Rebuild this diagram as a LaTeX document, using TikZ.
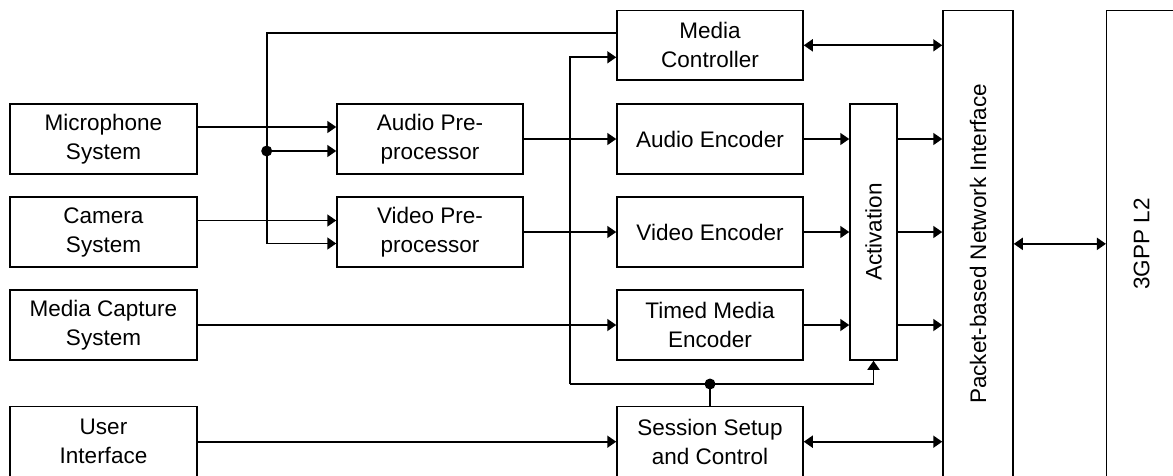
\documentclass[tikz,border=0pt]{standalone}
\usepackage{fontspec}
\setmainfont{Liberation Sans}
\usetikzlibrary{arrows.meta,calc}
\begin{document}
\begin{tikzpicture}[x=1pt,y=-1pt,
  box/.style={draw,line width=1.5pt,inner sep=0pt,align=center,
    minimum width=186pt,minimum height=70pt,
    font=\fontsize{22.5}{29}\selectfont},
  txt/.style={inner sep=0pt,font=\fontsize{22.5}{29}\selectfont},
  ln/.style={line width=1.8pt},
  arr/.style={line width=1.8pt,-{Triangle[length=9pt,width=12pt]}},
  darr/.style={line width=1.8pt,{Triangle[length=9pt,width=12pt]}-{Triangle[length=9pt,width=12pt]}}]
\useasboundingbox (0,0) rectangle (1173,475);
\clip (0,0) rectangle (1173,475);
% left column
\node[box,minimum width=187pt] (mic) at (103.5,139) {Microphone\\System};
\node[box,minimum width=187pt] (cam) at (103.5,232) {Camera\\System};
\node[box,minimum width=187pt] (cap) at (103.5,325) {Media Capture\\System};
\node[box,minimum width=187pt] (ui) at (103.5,441.7) {User\\Interface};
% preprocessors
\node[box] (apre) at (430,139) {Audio Pre-\\processor};
\node[box] (vpre) at (430,232) {Video Pre-\\processor};
% encoders column
\node[box,minimum height=69.3pt] (mc) at (710,45.3) {Media\\Controller};
\node[box] (aenc) at (710,139) {Audio Encoder};
\node[box] (venc) at (710,232) {Video Encoder};
\node[box] (tenc) at (710,325) {Timed Media\\Encoder};
\node[box] (sess) at (710,441.7) {Session Setup\\and Control};
% activation, network interface, L2
\node[box,minimum width=47pt,minimum height=256pt] (act) at (873.5,232) {};
\node[txt,rotate=90] (acttxt) at (act.center) {Activation};
\node[box,minimum width=70pt,minimum height=466.3pt] (pni) at (978,243.85) {};
\node[txt,rotate=90] (pnitxt) at (pni.center) {Packet-based Network Interface};
\node[box,minimum width=70pt,minimum height=466.3pt] (ltwo) at (1141.7,243.85) {};
\node[txt,rotate=90] (ltwotxt) at (ltwo.center) {3GPP L2};
% helper coordinates
\coordinate (bx) at (266.7,0);
\coordinate (a1) at ([yshift=12pt]apre.west);
\coordinate (a2) at ([yshift=-12pt]apre.west);
\coordinate (v1) at ([yshift=11.5pt]vpre.west);
\coordinate (v2) at ([yshift=-11.5pt]vpre.west);
\coordinate (m1) at ([yshift=12pt]mc.west);
\coordinate (m2) at ([yshift=-12pt]mc.west);
\coordinate (j1) at (bx |- a2);
\coordinate (lb) at (570,384);
\coordinate (j2) at (sess.north |- lb);
% inputs to preprocessors
\draw[arr] (mic.east |- a1) -- (a1);
\draw[arr] (cam.east |- v1) -- (v1);
\draw[arr] (m1) -| (bx |- v2) -- (v2);
\draw[arr] (j1) -- (a2);
\fill (j1) circle (5.5pt);
% preprocessors to encoders
\draw[arr] (apre.east) -- (aenc.west);
\draw[arr] (vpre.east) -- (venc.west);
\draw[arr] (cap.east) -- (tenc.west);
\draw[arr] (ui.east) -- (sess.west);
% encoders to activation
\draw[arr] (aenc.east) -- (act.west |- aenc.east);
\draw[arr] (venc.east) -- (act.west |- venc.east);
\draw[arr] (tenc.east) -- (act.west |- tenc.east);
% activation to network interface
\draw[arr] (act.east |- aenc.east) -- (pni.west |- aenc.east);
\draw[arr] (act.east |- venc.east) -- (pni.west |- venc.east);
\draw[arr] (act.east |- tenc.east) -- (pni.west |- tenc.east);
% bidirectional
\draw[darr] (mc.east) -- (pni.west |- mc.east);
\draw[darr] (sess.east) -- (pni.west |- sess.east);
\draw[darr] (pni.east |- ltwo.west) -- (ltwo.west);
% session control bus
\draw[ln] (sess.north) -- (j2);
\draw[arr] (lb) |- (m2);
\draw[arr] (lb) -| (act.south);
\fill (j2) circle (5.5pt);
\end{tikzpicture}
\end{document}
